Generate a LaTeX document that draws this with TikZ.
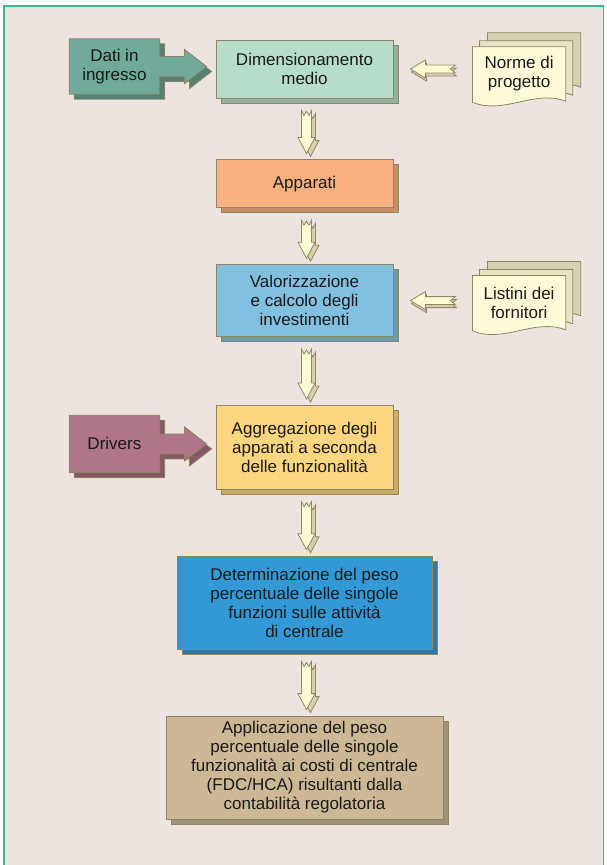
\documentclass[tikz,border=0pt]{standalone}
\usepackage{fontspec}
\setmainfont{Liberation Sans}
\usetikzlibrary{positioning, calc, shadows}

\definecolor{paper}{HTML}{EDE4E0}
\definecolor{frameline}{HTML}{3DB88E}
\definecolor{boxline}{HTML}{8F8566}
\definecolor{ink}{HTML}{1A1A1A}
\definecolor{dimfill}{HTML}{B5DDC9}
\definecolor{appfill}{HTML}{F9B27F}
\definecolor{valfill}{HTML}{82C0E0}
\definecolor{aggfill}{HTML}{FFD680}
\definecolor{detfill}{HTML}{3399D6}
\definecolor{applfill}{HTML}{CDB896}
\definecolor{datafill}{HTML}{6FAA9A}
\definecolor{drvfill}{HTML}{B07587}
\definecolor{docfront}{HTML}{FFFBD8}
\definecolor{docmid}{HTML}{E6E4C4}
\definecolor{docback}{HTML}{D5D2B1}
\definecolor{arrowfill}{HTML}{FFFBD2}
\definecolor{arrowshade}{HTML}{D6D0AC}
\definecolor{arrowline}{HTML}{8E8868}

\newcommand\boxfont{\fontsize{17}{19}\selectfont}

\pgfdeclarelayer{back}
\pgfsetlayers{back,main}

\tikzset{
    procbox/.style={
        rectangle,
        draw=boxline,
        line width=0.8pt,
        fill=#1,
        copy shadow={shadow xshift=5pt, shadow yshift=-5pt, fill=#1!80!black, draw=boxline},
        minimum width=177pt,
        inner sep=1pt,
        align=center,
        font=\boxfont,
        text=ink
    },
    feedbox/.style={
        rectangle,
        minimum width=90pt,
        inner sep=1pt,
        align=center,
        font=\boxfont,
        text=ink
    },
    docbox/.style={
        rectangle,
        minimum width=93pt,
        minimum height=54pt,
        inner sep=1pt,
        align=center,
        font=\boxfont,
        text=ink
    },
    blockline/.style={
        draw=arrowline,
        line width=0.8pt,
        line join=miter
    }
}

% block arrow pointing down, between two boxes
\newcommand\flowarrow[2]{%
    \foreach \sx/\sy/\tone in {4/3/arrowshade, 0/0/arrowfill}{
        \coordinate (ft) at ($(#1.south)+(2+\sx,12+\sy)$);
        \coordinate (fh) at ($(#2.north)+(2+\sx,-6+\sy)$);
        \draw[blockline, fill=\tone]
            ($(ft)+(-5,0)$) -- ($(ft)+(-2.5,5)$) -- ($(ft)+(0,1)$) -- ($(ft)+(2.5,5)$) -- ($(ft)+(5,0)$)
            -- ($(fh)+(5,-16)$) -- ($(fh)+(8.5,-16)$) -- (fh) -- ($(fh)+(-8.5,-16)$) -- ($(fh)+(-5,-16)$) -- cycle;
    }
}

% small block arrow pointing left, from a document to a box
\newcommand\docarrow[2]{%
    \foreach \sx/\sy/\tone in {1/3/arrowshade, 0/0/arrowfill}{
        \coordinate (lt) at ($(#2.east)+(17+\sx,\sy)$);
        \coordinate (lb) at ($(#1.west |- #2.east)+(-17+\sx,\sy)$);
        \draw[blockline, fill=\tone]
            (lt) -- ($(lt)+(15,-9)$) -- ($(lt)+(15,-4)$) -- ($(lb)+(0,-4)$) -- ($(lb)+(-5,0)$)
            -- ($(lb)+(0,4)$) -- ($(lt)+(15,4)$) -- ($(lt)+(15,9)$) -- cycle;
    }
}

% input box merged with its arrow
\newcommand\feedarrow[3]{%
    \begin{pgfonlayer}{back}
    \foreach \sx/\sy/\tone in {5/5/#3!75!black, 0/0/#3}{
        \coordinate (ftip) at ($(#2.west |- #1.east)+(-9+\sx,\sy)$);
        \draw[draw=boxline, line width=0.8pt, fill=\tone]
            ($(#1.north west)+(\sx,\sy)$) -- ($(#1.north east)+(\sx,\sy)$)
            -- ($(#1.east)+(\sx,-10+\sy)$) -- ($(ftip)+(-22,-10)$) -- ($(ftip)+(-22,-17)$)
            -- (ftip) -- ($(ftip)+(-22,17)$) -- ($(ftip)+(-22,10)$) -- ($(#1.east)+(\sx,10+\sy)$)
            -- ($(#1.south east)+(\sx,\sy)$) -- ($(#1.south west)+(\sx,\sy)$) -- cycle;
    }
    \end{pgfonlayer}
}

% stack of three pages behind a document node
\newcommand\docpages[1]{%
    \begin{pgfonlayer}{back}
    \foreach \ox/\oy/\tone in {15/-14/docback, 7/-6/docmid, 0/0/docfront}{
        \draw[draw=boxline, line width=0.8pt, fill=\tone]
            ($(#1.north west)+(\ox,\oy)$) -- ($(#1.north east)+(\ox,\oy)$) -- ($(#1.south east)+(\ox,\oy)$)
            .. controls ($(#1.south)+(15+\ox,-12+\oy)$) and ($(#1.south)+(-15+\ox,14+\oy)$) .. ($(#1.south west)+(\ox,1+\oy)$) -- cycle;
    }
    \end{pgfonlayer}
}

\begin{document}
\begin{tikzpicture}[x=1pt, y=-1pt]
    \useasboundingbox (0,0) rectangle (607,865);
    \begin{pgfonlayer}{back}
        \fill[white] (0,0) rectangle (607,865);
        \fill[paper] (4,6) rectangle (604,865);
        \draw[frameline, line width=1.5pt] (4,866) -- (4,6) -- (603.5,6) -- (603.5,866);
    \end{pgfonlayer}

    \node[procbox=dimfill, minimum height=58pt] (dim) at (304.5,69) {Dimensionamento\\medio};
    \node[procbox=appfill, minimum height=48pt, below=61pt of dim] (app) {Apparati};
    \node[procbox=valfill, minimum height=72pt, below=56pt of app] (val) {Valorizzazione\\e calcolo degli\\investimenti};
    \node[procbox=aggfill, minimum height=84pt, below=68pt of val] (agg) {Aggregazione degli\\apparati a seconda\\delle funzionalità};
    \node[procbox=detfill, minimum height=93pt, minimum width=255pt, below=66pt of agg] (det) {Determinazione del peso\\percentuale delle singole\\funzioni sulle attività\\di centrale};
    \node[procbox=applfill, minimum height=103pt, minimum width=277pt, below=66pt of det] (appl) {Applicazione del peso\\percentuale delle singole\\funzionalità ai costi di centrale\\(FDC/HCA) risultanti dalla\\contabilità regolatoria};

    \node[feedbox, minimum height=55pt, left=56pt of dim, yshift=2.5pt] (dati) {Dati in\\ingresso};
    \node[feedbox, minimum height=57pt, left=56pt of agg, yshift=3.5pt] (drivers) {Drivers};
    \node[docbox, right=79pt of dim, yshift=-5pt] (norme) {Norme di\\progetto};
    \node[docbox, right=79pt of val, yshift=-2pt] (listini) {Listini dei\\fornitori};

    \feedarrow{dati}{dim}{datafill}
    \feedarrow{drivers}{agg}{drvfill}
    \docpages{norme}
    \docpages{listini}
    \docarrow{norme}{dim}
    \docarrow{listini}{val}

    \flowarrow{dim}{app}
    \flowarrow{app}{val}
    \flowarrow{val}{agg}
    \flowarrow{agg}{det}
    \flowarrow{det}{appl}
\end{tikzpicture}
\end{document}
